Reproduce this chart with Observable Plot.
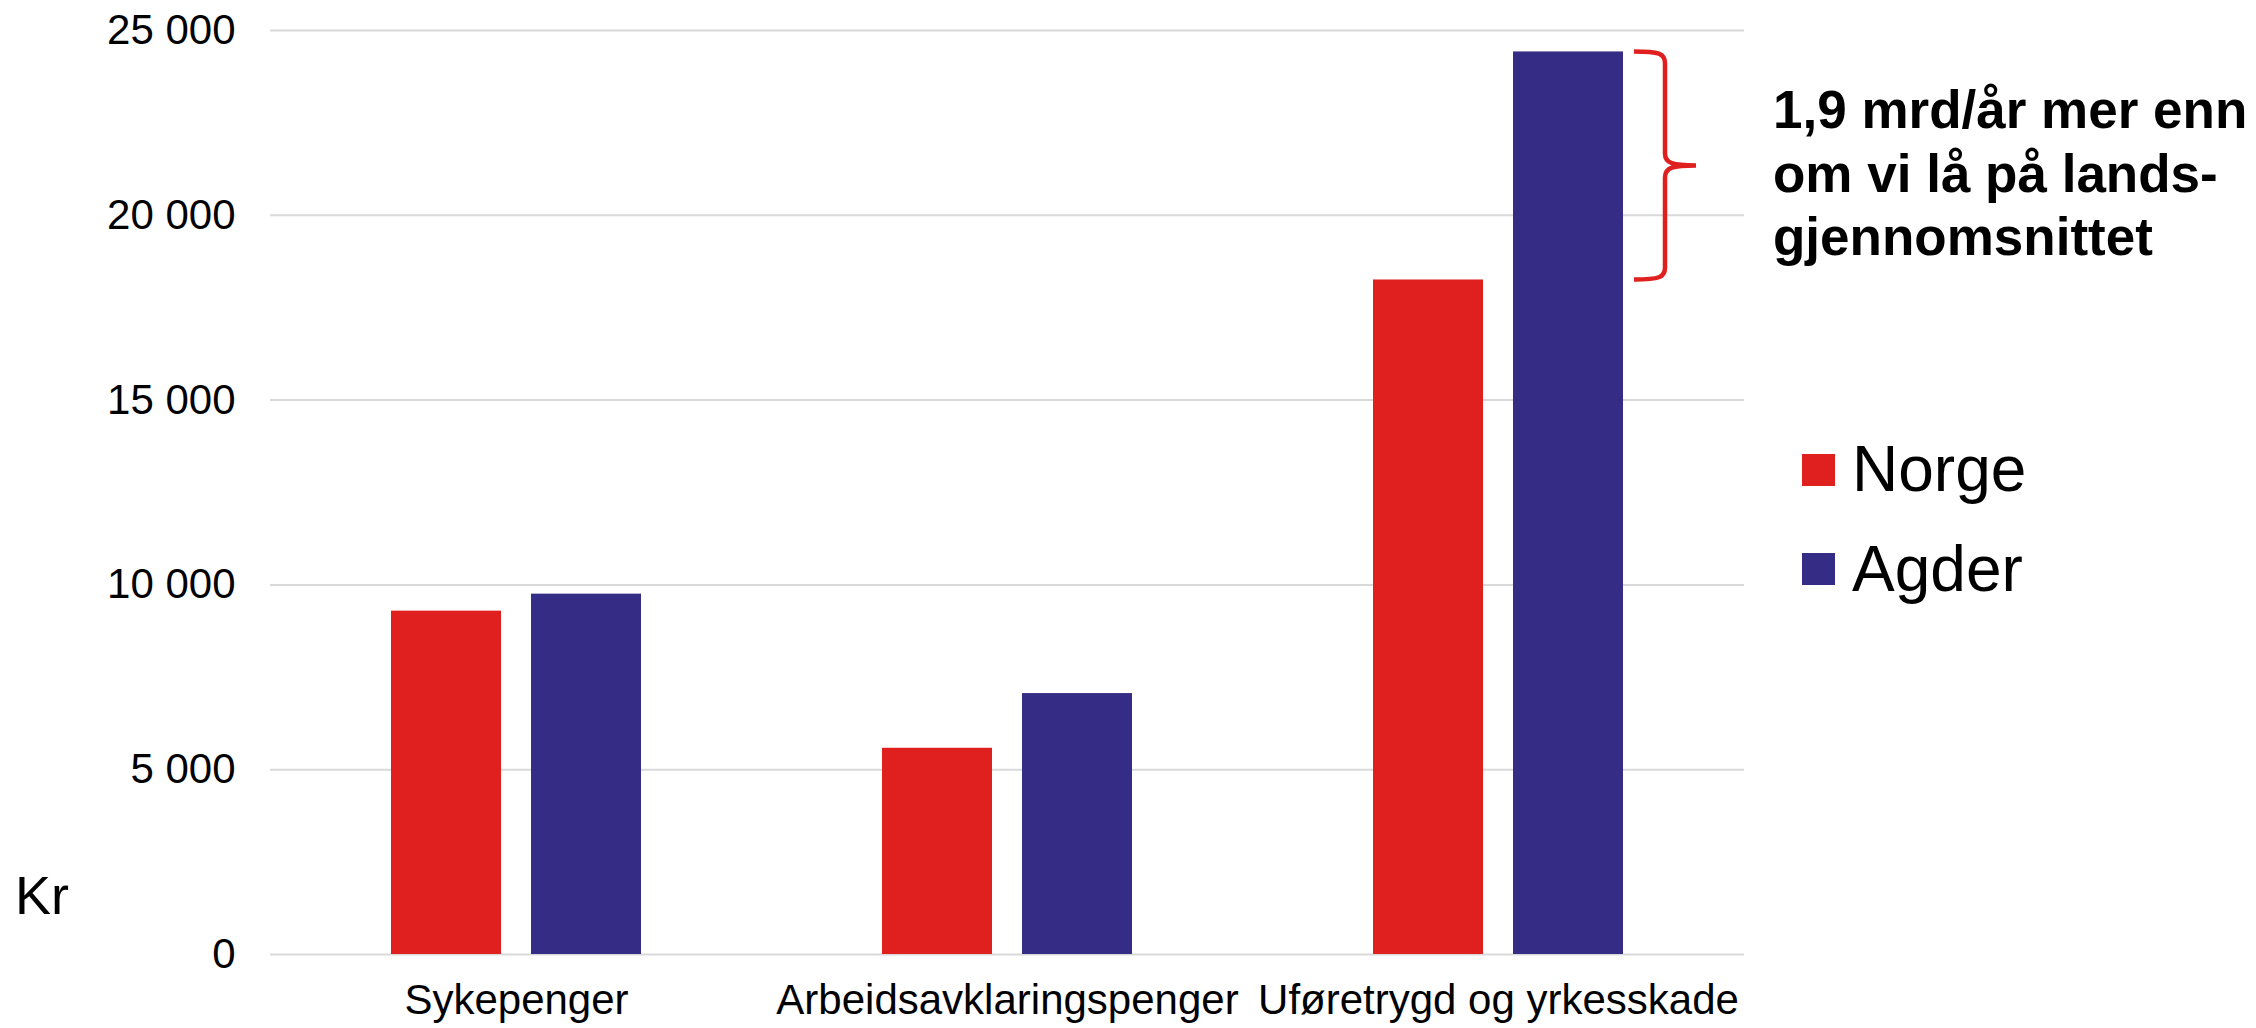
<!DOCTYPE html>
<html><head><meta charset="utf-8">
<script src="https://cdn.jsdelivr.net/npm/d3@7"></script>
<script src="https://cdn.jsdelivr.net/npm/@observablehq/plot@0.6"></script>
<style>
html,body{margin:0;padding:0;background:#fff;}
#chart{position:relative;width:2256px;height:1028px;font-family:"Liberation Sans",Arial,sans-serif;}
</style></head><body><div id="chart"></div>
<script>
const categories = ["Sykepenger", "Arbeidsavklaringspenger", "Uføretrygd og yrkesskade"];
const series = ["Norge", "Agder"];
const norge = [9290, 5580, 18250];
const agder = [9750, 7060, 24420];
const yTicks = [0, 5000, 10000, 15000, 20000, 25000];
const colors = ["#e0201f", "#352d85"];
const annotationLines = ["1,9 mrd/år mer enn", "om vi lå på lands-", "gjennomsnittet"];
const yLabel = "Kr";

const FONT = '"Liberation Sans", Arial, sans-serif';
const rows = categories.flatMap((c, i) => [
  {category: c, series: series[0], value: norge[i]},
  {category: c, series: series[1], value: agder[i]}
]);
const fmt = d => d3.format(",")(d).replace(/,/g, " ");

const plot = Plot.plot({
  width: 2256, height: 1028,
  marginLeft: 270, marginRight: 512, marginTop: 30, marginBottom: 74,
  style: {fontFamily: FONT, fontSize: "42px", color: "#000", background: "transparent"},
  x: {domain: categories, paddingInner: 0.49, paddingOuter: 0.245, label: null},
  y: {domain: [0, 25000], label: null},
  color: {domain: series, range: colors},
  marks: [
    Plot.gridY(yTicks, {stroke: "#d9d9d9", strokeOpacity: 1, strokeWidth: 2}),
    Plot.axisY(yTicks, {tickFormat: fmt, tickSize: 0, tickPadding: 35, label: null, fontSize: 42, fill: "#000"}),
    Plot.axisX({tickSize: 0, tickPadding: 30, label: null, fontSize: 42, fill: "#000"}),
    Plot.barY(rows.filter(d => d.series === series[0]), {x: "category", y: "value", fill: "series", insetRight: 140}),
    Plot.barY(rows.filter(d => d.series === series[1]), {x: "category", y: "value", fill: "series", insetLeft: 140})
  ]
});
document.getElementById("chart").appendChild(plot);

const svg = d3.select(plot);
const xs = plot.scale("x"), ys = plot.scale("y");
const xRight = xs.apply(categories[2]) + xs.bandwidth;
const y1 = ys.apply(agder[2]), y2 = ys.apply(norge[2]), ym = (y1 + y2) / 2;
const x0 = xRight + 11, s = x0 + 31, tip = x0 + 62;
const p = d3.path();
p.moveTo(x0, y1);
p.bezierCurveTo(s - 6, y1, s, y1 + 2, s, y1 + 12);
p.lineTo(s, ym - 12);
p.bezierCurveTo(s, ym - 2, s + 8, ym, tip, ym);
p.moveTo(tip, ym);
p.bezierCurveTo(s + 8, ym, s, ym + 2, s, ym + 12);
p.lineTo(s, y2 - 12);
p.bezierCurveTo(s, y2 - 2, s - 6, y2, x0, y2);
svg.append("path").attr("d", p.toString()).attr("fill", "none")
  .attr("stroke", "#e0201f").attr("stroke-width", 4.5);

const ann = svg.append("text").attr("font-family", FONT).attr("font-weight", "bold")
  .attr("font-size", 53).attr("fill", "#000").attr("text-anchor", "start");
annotationLines.forEach((t, i) => {
  ann.append("tspan").attr("x", 1773).attr("y", 128 + i * 63.5).text(t);
});

series.forEach((name, i) => {
  svg.append("rect").attr("x", 1802).attr("y", 454 + i * 99).attr("width", 33).attr("height", 32).attr("fill", colors[i]);
  svg.append("text").attr("x", 1852).attr("y", 491 + i * 100).attr("font-family", FONT)
    .attr("text-anchor", "start").attr("font-size", 64).attr("fill", "#000").text(name);
});

svg.append("text").attr("x", 15).attr("y", 914).attr("font-family", FONT).attr("text-anchor", "start")
  .attr("font-size", 54).attr("fill", "#000").text(yLabel);
</script>
</body></html>
